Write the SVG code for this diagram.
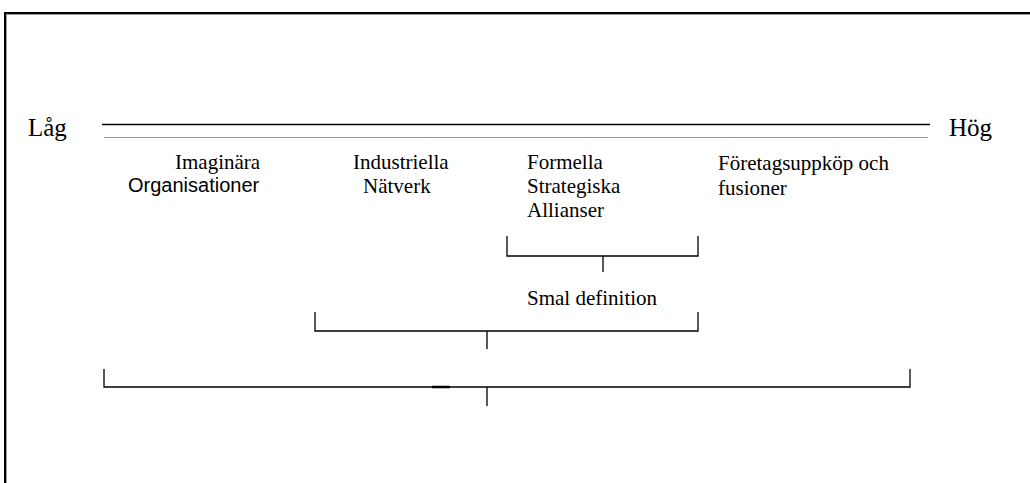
<svg xmlns="http://www.w3.org/2000/svg" width="1030" height="483" viewBox="0 0 1030 483">
<style>
.serif{font-family:"Liberation Serif","Times New Roman",serif;font-size:21px;fill:#000}
.sans{font-family:"Liberation Sans",Arial,sans-serif;font-size:20px;fill:#000}
.big{font-family:"Liberation Serif","Times New Roman",serif;font-size:25px;fill:#000}
.ln{stroke:#000;stroke-width:1.3;fill:none}
</style>
<rect width="1030" height="483" fill="#fff"/>
<g id="frame"><path d="M5,483 V13 H1030" fill="none" stroke="#000" stroke-width="2"/><path d="M6.5,483 V14.5 H1030" fill="none" stroke="#999" stroke-width="1"/></g>
<g id="scale">
<line x1="102" y1="124.5" x2="930" y2="124.5" stroke="#000" stroke-width="1.5"/>
<line x1="104" y1="137.5" x2="928" y2="137.5" stroke="#999" stroke-width="1"/>
<text class="big" x="28" y="136">Låg</text>
<text class="big" x="949" y="136">Hög</text>
</g>
<g id="imaginara"><text class="serif" x="175" y="169">Imaginära</text><text class="sans" x="128" y="192">Organisationer</text></g>
<g id="industriella"><text class="serif" x="353" y="169">Industriella</text><text class="serif" x="363" y="193">Nätverk</text></g>
<g id="formella"><text class="serif" x="527" y="169">Formella</text><text class="serif" x="527" y="193">Strategiska</text><text class="serif" x="527" y="217">Allianser</text></g>
<g id="foretag"><text class="serif" x="718" y="170">Företagsuppköp och</text><text class="serif" x="718" y="195">fusioner</text></g>
<g id="smal"><text class="serif" x="527" y="305">Smal definition</text></g>
<g id="connectors">
<path class="ln" d="M507,236 V256 H698 V236 M603,256 V272"/>
<path class="ln" d="M315,312 V331 H698 V312 M487,331 V349"/>
<path class="ln" d="M104,369 V387 H910 V369 M487,387 V406"/>
<line x1="432" y1="387" x2="450" y2="387" stroke="#000" stroke-width="2.5"/>
</g>
</svg>
